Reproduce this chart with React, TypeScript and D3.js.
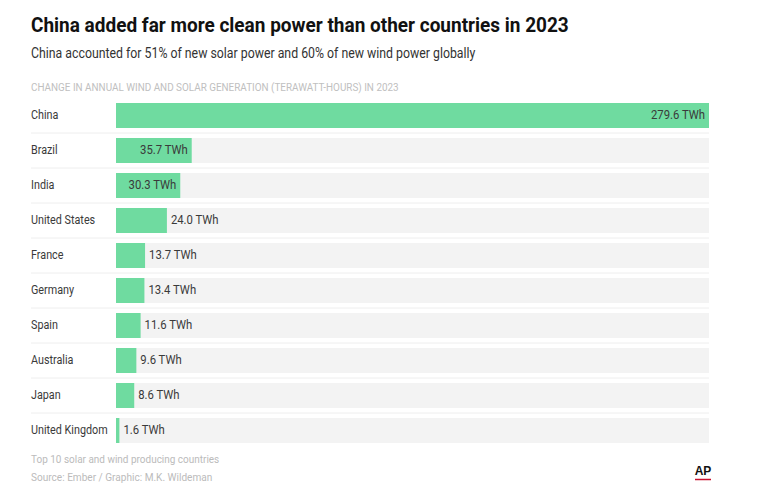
import React from "react";
import * as d3 from "d3";

const countries = ["China", "Brazil", "India", "United States", "France", "Germany", "Spain", "Australia", "Japan", "United Kingdom"];
const values = [279.6, 35.7, 30.3, 24.0, 13.7, 13.4, 11.6, 9.6, 8.6, 1.6];

const title = "China added far more clean power than other countries in 2023";
const subtitle = "China accounted for 51% of new solar power and 60% of new wind power globally";
const axisLabel = "CHANGE IN ANNUAL WIND AND SOLAR GENERATION (TERAWATT-HOURS) IN 2023";
const note = "Top 10 solar and wind producing countries";
const source = "Source: Ember / Graphic: M.K. Wildeman";

const W = 768;
const H = 498;
const FONT = "Roboto, sans-serif";

function CText(props: any) {
  const { x, y, sx, children, ...rest } = props;
  return (
    <text transform={`translate(${x},${y}) scale(${sx},1)`} {...rest}>{children}</text>
  );
}

export default function App() {
  const x = d3.scaleLinear().domain([0, d3.max(values) as number]).range([116, 709]);
  const y = d3.scaleBand().domain(countries).range([98, 448]).paddingInner(0);
  const barH = 25;
  return (
    <svg width={W} height={H} style={{ position: "absolute", left: 0, top: 0, background: "#fff" }} fontFamily={FONT}>
      <CText x={31} y={32} sx={0.905} fontSize={21} fontWeight="bold" fill="#111">{title}</CText>
      <CText x={31} y={58} sx={0.85} fontSize={14.5} fill="#333">{subtitle}</CText>
      <CText x={31} y={91} sx={0.9} fontSize={11} fill="#c0c0c0">{axisLabel}</CText>
      {countries.map((c, i) => {
        const yc = (y(c) as number) + y.bandwidth() / 2;
        const v = values[i];
        const x1 = x(v);
        const inside = x1 - x(0) > 60;
        const label = `${v.toFixed(1)} TWh`;
        return (
          <g key={c}>
            {i > 0 && <line x1={31} x2={709} y1={y(c)} y2={y(c)} stroke="#eee" strokeWidth={1} />}
            <rect x={x(0)} y={yc - barH / 2} width={x(d3.max(values) as number) - x(0)} height={barH} fill="#f3f3f3" />
            <rect x={x(0)} y={yc - barH / 2} width={Math.max(2.5, x1 - x(0))} height={barH} fill="#6fdba0" />
            <CText x={31} y={yc + 3.5} sx={0.83} fontSize={13} fill="#3a3a3a">{c}</CText>
            <CText x={inside ? x1 - 4 : Math.max(x1, x(0) + 2.5) + 4} y={yc + 3.5} sx={0.87} fontSize={13} fill="#3a3a3a" textAnchor={inside ? "end" : "start"}>{label}</CText>
          </g>
        );
      })}
      <CText x={31} y={463} sx={0.95} fontSize={10.5} fill="#bbb">{note}</CText>
      <CText x={31} y={481} sx={0.96} fontSize={10.5} fill="#bbb">{source}</CText>
      <text x={703} y={475} fontSize={12} fontWeight="bold" fill="#111" textAnchor="middle" fontFamily="'Liberation Sans', sans-serif">AP</text>
      <line x1={695} x2={711} y1={479.5} y2={479.5} stroke="#c8102e" strokeWidth={1.5} />
    </svg>
  );
}
